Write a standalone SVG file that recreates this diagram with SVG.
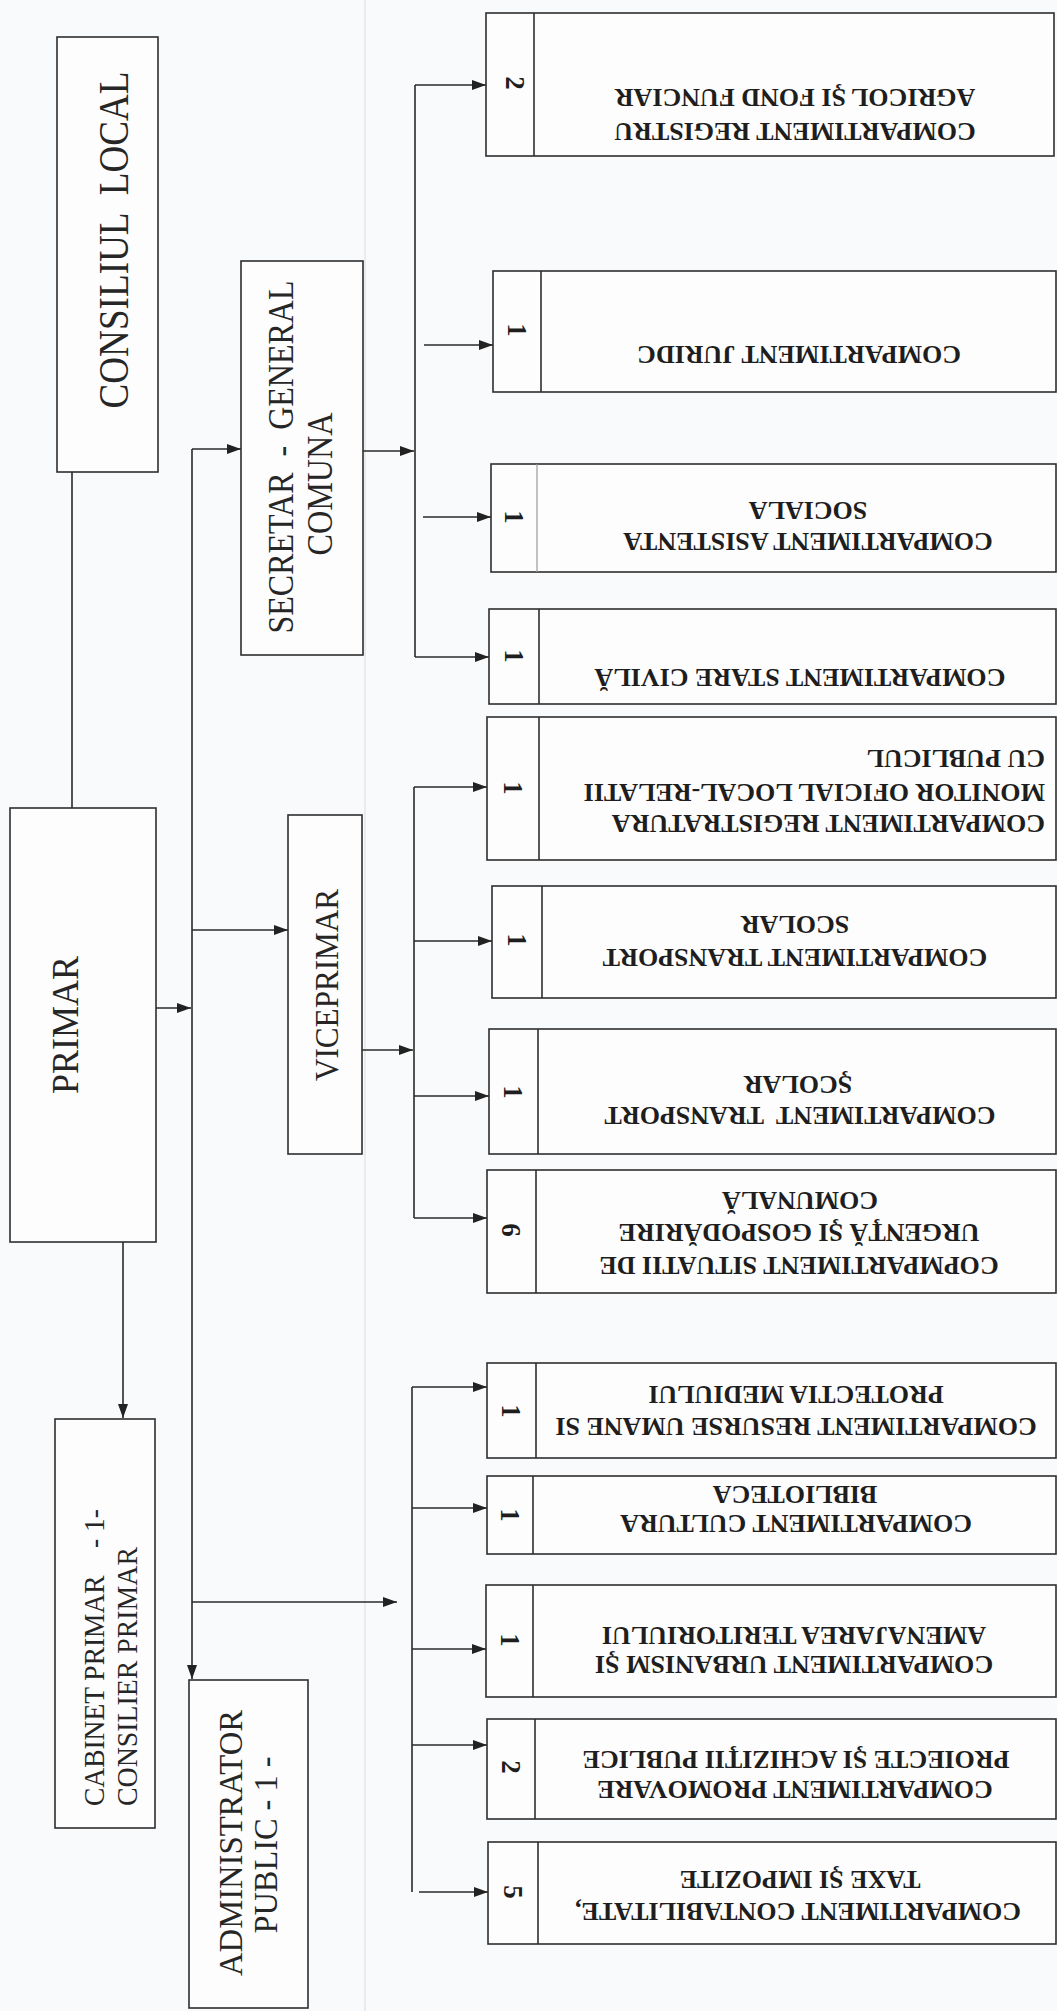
<svg xmlns="http://www.w3.org/2000/svg" width="1057" height="2011" viewBox="0 0 1057 2011">
<style>
.bg{fill:#f8fafb}
.box{fill:#fdfdfd;stroke:#2e2e2e;stroke-width:1.6}
.div{stroke:#2e2e2e;stroke-width:1.6}
.con{stroke:#2a2a2a;stroke-width:1.6;fill:none}
.arr{stroke:#2a2a2a;stroke-width:1.6;fill:none;marker-end:url(#ah)}
.lt{font-family:"Liberation Serif","Times New Roman",serif;fill:#262626}
.rt{font-family:"Liberation Serif","Times New Roman",serif;font-weight:bold;font-size:26px;fill:#1e1e1e;text-anchor:middle}
.num{font-family:"Liberation Serif","Times New Roman",serif;font-weight:bold;font-size:27px;fill:#1e1e1e;text-anchor:middle}
</style>
<defs>
<marker id="ah" viewBox="0 0 14 10" refX="14" refY="5" markerWidth="14" markerHeight="10" markerUnits="userSpaceOnUse" orient="auto">
<path d="M0,0 L14,5 L0,10 z" fill="#222"/>
</marker>
</defs>
<rect class="bg" x="0" y="0" width="1057" height="2011"/>
<line x1="365" y1="0" x2="365" y2="2011" stroke="#e3e7ea" stroke-width="1.5"/>

<g id="connectors">
<line class="con" x1="72" y1="472" x2="72" y2="808"/>
<line class="arr" x1="123" y1="1242" x2="123" y2="1418"/>
<line class="arr" x1="156" y1="1008" x2="191" y2="1008"/>
<line class="arr" x1="192" y1="449" x2="192" y2="1679"/>
<line class="arr" x1="192" y1="449" x2="241" y2="449"/>
<line class="arr" x1="192" y1="930" x2="288" y2="930"/>
<line class="arr" x1="192" y1="1602" x2="397" y2="1602"/>
<line class="arr" x1="363" y1="451" x2="414" y2="451"/>
<line class="con" x1="415" y1="85" x2="415" y2="657"/>
<line class="arr" x1="415" y1="85" x2="486" y2="85"/>
<line class="arr" x1="424" y1="345" x2="493" y2="345"/>
<line class="arr" x1="423" y1="517" x2="491" y2="517"/>
<line class="arr" x1="415" y1="657" x2="489" y2="657"/>
<line class="arr" x1="362" y1="1050" x2="413" y2="1050"/>
<line class="con" x1="414" y1="787" x2="414" y2="1218"/>
<line class="arr" x1="414" y1="787" x2="487" y2="787"/>
<line class="arr" x1="414" y1="941" x2="492" y2="941"/>
<line class="arr" x1="414" y1="1096" x2="489" y2="1096"/>
<line class="arr" x1="414" y1="1218" x2="487" y2="1218"/>
<line class="con" x1="412" y1="1387" x2="412" y2="1892"/>
<line class="arr" x1="412" y1="1387" x2="487" y2="1387"/>
<line class="arr" x1="412" y1="1508" x2="487" y2="1508"/>
<line class="arr" x1="412" y1="1649" x2="486" y2="1649"/>
<line class="arr" x1="412" y1="1745" x2="487" y2="1745"/>
<line class="arr" x1="419" y1="1892" x2="488" y2="1892"/>
</g>

<g id="consiliul-local">
<rect class="box" x="57" y="37" width="101" height="435"/>
<text class="lt" xml:space="preserve" font-size="43" text-anchor="middle" textLength="337" lengthAdjust="spacingAndGlyphs" transform="translate(128,240) rotate(-90)">CONSILIUL  LOCAL</text>
</g>

<g id="primar">
<rect class="box" x="10" y="808" width="146" height="434"/>
<text class="lt" font-size="38" text-anchor="middle" textLength="138" lengthAdjust="spacingAndGlyphs" transform="translate(78,1025) rotate(-90)">PRIMAR</text>
</g>

<g id="secretar">
<rect class="box" x="241" y="261" width="122" height="394"/>
<text class="lt" xml:space="preserve" font-size="36" text-anchor="middle" textLength="353" lengthAdjust="spacingAndGlyphs" transform="translate(293,457) rotate(-90)">SECRETAR  -  GENERAL</text>
<text class="lt" font-size="36" text-anchor="middle" textLength="143" lengthAdjust="spacingAndGlyphs" transform="translate(332,484) rotate(-90)">COMUNA</text>
</g>

<g id="viceprimar">
<rect class="box" x="288" y="815" width="74" height="339"/>
<text class="lt" font-size="33" text-anchor="middle" textLength="192" lengthAdjust="spacingAndGlyphs" transform="translate(338,985) rotate(-90)">VICEPRIMAR</text>
</g>

<g id="cabinet">
<rect class="box" x="55" y="1419" width="100" height="409"/>
<text class="lt" xml:space="preserve" font-size="29" text-anchor="start" textLength="297" lengthAdjust="spacingAndGlyphs" transform="translate(104,1806) rotate(-90)">CABINET PRIMAR    - 1-</text>
<text class="lt" font-size="29" text-anchor="start" textLength="259" lengthAdjust="spacingAndGlyphs" transform="translate(137,1806) rotate(-90)">CONSILIER PRIMAR</text>
</g>

<g id="administrator">
<rect class="box" x="189" y="1680" width="119" height="328"/>
<text class="lt" font-size="33" text-anchor="middle" textLength="266" lengthAdjust="spacingAndGlyphs" transform="translate(242,1843) rotate(-90)">ADMINISTRATOR</text>
<text class="lt" xml:space="preserve" font-size="33" text-anchor="middle" textLength="177" lengthAdjust="spacingAndGlyphs" transform="translate(277,1845) rotate(-90)">PUBLIC - 1 -</text>
</g>

<g id="registru-agricol">
<rect class="box" x="486" y="13" width="568" height="143"/>
<line class="div" x1="534" y1="13" x2="534" y2="156"/>
<text class="num" transform="translate(515,83) rotate(90)" dy="9">2</text>
<text class="rt" transform="translate(795,123) rotate(180)">COMPARTIMENT REGISTRU</text>
<text class="rt" transform="translate(795,89) rotate(180)">AGRICOL ŞI FOND FUNCIAR</text>
</g>

<g id="juridic">
<rect class="box" x="493" y="271" width="563" height="121"/>
<line class="div" x1="541" y1="271" x2="541" y2="392"/>
<text class="num" transform="translate(517,330) rotate(90)" dy="9">1</text>
<text class="rt" transform="translate(799,346) rotate(180)">COMPARTIMENT JURIDC</text>
</g>

<g id="asistenta">
<rect class="box" x="491" y="464" width="565" height="108"/>
<line x1="537" y1="464" x2="537" y2="572" stroke="#9a9a9a" stroke-width="1.2"/>
<text class="num" transform="translate(514,517) rotate(90)" dy="9">1</text>
<text class="rt" transform="translate(808,533) rotate(180)">COMPARTIMENT ASISTENTA</text>
<text class="rt" transform="translate(808,502) rotate(180)">SOCIALA</text>
</g>

<g id="stare-civila">
<rect class="box" x="489" y="609" width="567" height="95"/>
<line class="div" x1="539" y1="609" x2="539" y2="704"/>
<text class="num" transform="translate(514,656) rotate(90)" dy="9">1</text>
<text class="rt" transform="translate(800,669) rotate(180)">COMPARTIMENT STARE CIVILĂ</text>
</g>

<g id="registratura">
<rect class="box" x="487" y="717" width="569" height="143"/>
<line class="div" x1="539" y1="717" x2="539" y2="860"/>
<text class="num" transform="translate(513,788) rotate(90)" dy="9">1</text>
<text class="rt" style="text-anchor:start" transform="translate(1045,815) rotate(180)">COMPARTIMENT REGISTRATURA</text>
<text class="rt" style="text-anchor:start" transform="translate(1045,784) rotate(180)">MONITOR OFICIAL LOCAL-RELATII</text>
<text class="rt" style="text-anchor:start" transform="translate(1045,750) rotate(180)">CU PUBLICUL</text>
</g>

<g id="transport-scolar-1">
<rect class="box" x="492" y="886" width="564" height="112"/>
<line class="div" x1="542" y1="886" x2="542" y2="998"/>
<text class="num" transform="translate(517,940) rotate(90)" dy="9">1</text>
<text class="rt" transform="translate(795,949) rotate(180)">COMPARTIMENT TRANSPORT</text>
<text class="rt" transform="translate(795,916) rotate(180)">SCOLAR</text>
</g>

<g id="transport-scolar-2">
<rect class="box" x="489" y="1029" width="567" height="125"/>
<line class="div" x1="538" y1="1029" x2="538" y2="1154"/>
<text class="num" transform="translate(513,1092) rotate(90)" dy="9">1</text>
<text class="rt" xml:space="preserve" transform="translate(800,1107) rotate(180)">COMPARTIMENT  TRANSPORT</text>
<text class="rt" transform="translate(798,1076) rotate(180)">ŞCOLAR</text>
</g>

<g id="situatii-urgenta">
<rect class="box" x="487" y="1170" width="569" height="123"/>
<line class="div" x1="536" y1="1170" x2="536" y2="1293"/>
<text class="num" transform="translate(511,1230) rotate(90)" dy="9">6</text>
<text class="rt" transform="translate(799,1257) rotate(180)">COPMPARTIMENT SITUATII DE</text>
<text class="rt" transform="translate(799,1224) rotate(180)">URGENŢĂ ŞI GOSPODĂRIRE</text>
<text class="rt" transform="translate(800,1192) rotate(180)">COMUNALĂ</text>
</g>

<g id="resurse-umane">
<rect class="box" x="487" y="1363" width="569" height="95"/>
<line class="div" x1="536" y1="1363" x2="536" y2="1458"/>
<text class="num" transform="translate(511,1411) rotate(90)" dy="9">1</text>
<text class="rt" transform="translate(796,1418) rotate(180)">COMPARTIMENT RESURSE UMANE SI</text>
<text class="rt" transform="translate(796,1386) rotate(180)">PROTECTIA MEDIULUI</text>
</g>

<g id="cultura">
<rect class="box" x="487" y="1476" width="569" height="78"/>
<line class="div" x1="533" y1="1476" x2="533" y2="1554"/>
<text class="num" transform="translate(510,1515) rotate(90)" dy="9">1</text>
<text class="rt" transform="translate(796,1515) rotate(180)">COMPARTIMENT CULTURA</text>
<text class="rt" transform="translate(795,1486) rotate(180)">BIBLIOTECA</text>
</g>

<g id="urbanism">
<rect class="box" x="486" y="1585" width="570" height="112"/>
<line class="div" x1="533" y1="1585" x2="533" y2="1697"/>
<text class="num" transform="translate(510,1640) rotate(90)" dy="9">1</text>
<text class="rt" transform="translate(794,1656) rotate(180)">COMPARTIMENT URBANISM ŞI</text>
<text class="rt" transform="translate(794,1627) rotate(180)">AMENAJAREA TERITORIULUI</text>
</g>

<g id="promovare">
<rect class="box" x="487" y="1719" width="569" height="100"/>
<line class="div" x1="535" y1="1719" x2="535" y2="1819"/>
<text class="num" transform="translate(511,1767) rotate(90)" dy="9">2</text>
<text class="rt" transform="translate(795,1781) rotate(180)">COMPARTIMENT PROMOVARE</text>
<text class="rt" transform="translate(796,1751) rotate(180)">PROIECTE ŞI ACHIZIŢII PUBLICE</text>
</g>

<g id="contabilitate">
<rect class="box" x="488" y="1842" width="568" height="102"/>
<line class="div" x1="538" y1="1842" x2="538" y2="1944"/>
<text class="num" transform="translate(513,1892) rotate(90)" dy="9">5</text>
<text class="rt" transform="translate(798,1903) rotate(180)">COMPARTIMENT CONTABILITATE,</text>
<text class="rt" transform="translate(800,1871) rotate(180)">TAXE ŞI IMPOZITE</text>
</g>
</svg>
